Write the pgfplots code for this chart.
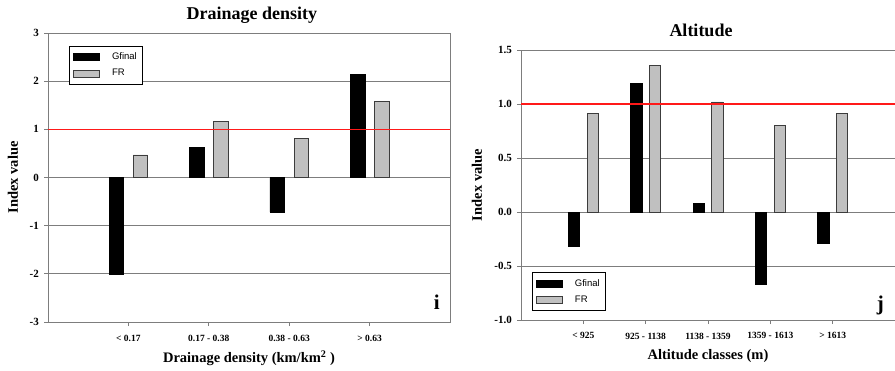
\documentclass[border=0pt]{standalone}
\usepackage{fontspec}
\setmainfont{Liberation Serif}
\newfontfamily\arial{Liberation Sans}
\usepackage{pgfplots}
\pgfplotsset{compat=1.18}

\definecolor{barfr}{RGB}{192,192,192}
\definecolor{baredge}{RGB}{60,60,60}
\definecolor{gridgray}{RGB}{125,125,125}
\definecolor{refred}{RGB}{255,25,25}

\pgfplotsset{
  panel/.style={
    scale only axis,
    axis line style={gridgray, line width=0.9pt},
    ymajorgrids,
    major grid style={gridgray, line width=0.7pt},
    tick align=outside, tick pos=left,
    major tick length=4pt,
    tick style={gridgray, line width=0.8pt},
    /pgf/number format/assume math mode=true,
    yticklabel style={font=\bfseries\fontsize{11}{12}\selectfont, inner sep=1pt, xshift=-4pt},
    xticklabel style={font=\bfseries\fontsize{9.5}{11}\selectfont, inner sep=1pt, yshift=-7.5pt},
    title style={font=\bfseries\fontsize{18}{20}\selectfont, at={(rel axis cs:0.5,1)}, anchor=base, yshift=8pt},
    legend image code/.code={\path[draw=none, fill=none] (0pt,0pt) rectangle (37pt,0pt);\draw[#1] (0pt,-3.5pt) rectangle (26pt,3.5pt);},
    legend style={draw=black, line width=0.6pt, fill=white,
      font=\arial\fontsize{9.5}{11}\selectfont,
      inner xsep=3.5pt, inner ysep=5pt, row sep=4pt,
      nodes={inner sep=2pt}},
    legend cell align=left,
  },
  gfinal/.style={ybar, bar width=0.18, bar shift=-0.15, fill=black, draw=black, line width=0.5pt},
  frbar/.style={ybar, bar width=0.18, bar shift=0.15, fill=barfr, draw=baredge, line width=0.6pt},
  refline/.style={color=refred, line width=1.5pt, forget plot},
}

\begin{document}
\begin{tikzpicture}
\useasboundingbox (0,0) rectangle (895pt,370pt);

% Panel j: altitude
\begin{axis}[panel,
  at={(521pt,50pt)}, anchor=south west,
  width=374pt, height=270pt,
  xmin=-1, xmax=5, ymin=-1, ymax=1.5,
  ytick={-1,-0.5,0,0.5,1,1.5},
  yticklabel style={/pgf/number format/.cd, fixed, fixed zerofill, precision=1},
  xtick={0,1,2,3,4},
  xticklabels={{< 925},{925 - 1138},{1138 - 1359},{1359 - 1613},{> 1613}},
  title={Altitude},
  title style={xshift=-7pt},
  xlabel={Altitude classes (m)},
  ylabel={Index value},
  every axis x label/.style={at={(rel axis cs:0.5,0)}, yshift=-36.5pt, anchor=center,
    font=\bfseries\fontsize{14.5}{16}\selectfont},
  every axis y label/.style={at={(rel axis cs:0,0.5)}, xshift=-44pt, rotate=90, anchor=center,
    font=\bfseries\fontsize{14.5}{16}\selectfont},
  legend style={at={(0.029,0.033)}, anchor=south west},
]
\addplot[gfinal] coordinates {(0,-0.32) (1,1.19) (2,0.08) (3,-0.67) (4,-0.29)};
\addplot[frbar] coordinates {(0,0.91) (1,1.36) (2,1.02) (3,0.80) (4,0.91)};
\addplot[refline] coordinates {(-1,1) (5,1)};
\legend{Gfinal, FR}
\node[anchor=base east, font=\bfseries\fontsize{21}{22}\selectfont, inner sep=0pt] at (rel axis cs:0.971,0.036) {j};
\end{axis}

% Panel i: drainage density
\begin{axis}[panel,
  at={(48pt,48pt)}, anchor=south west,
  width=402pt, height=289pt,
  xmin=-1, xmax=4, ymin=-3, ymax=3,
  ytick={-3,-2,-1,0,1,2,3},
  xtick={0,1,2,3},
  xticklabels={{< 0.17},{0.17 - 0.38},{0.38 - 0.63},{> 0.63}},
  title={Drainage density},
  title style={xshift=3pt},
  xlabel={Drainage density (km/km\textsuperscript{2} )},
  ylabel={Index value},
  every axis x label/.style={at={(rel axis cs:0.5,0)}, yshift=-36pt, anchor=center,
    font=\bfseries\fontsize{14.5}{16}\selectfont},
  every axis y label/.style={at={(rel axis cs:0,0.5)}, xshift=-35pt, rotate=90, anchor=center,
    font=\bfseries\fontsize{14.5}{16}\selectfont},
  legend style={at={(0.052,0.956)}, anchor=north west},
]
\addplot[gfinal] coordinates {(0,-2.00) (1,0.63) (2,-0.72) (3,2.14)};
\addplot[frbar] coordinates {(0,0.47) (1,1.16) (2,0.82) (3,1.58)};
\addplot[refline] coordinates {(-1,1) (4,1)};
\legend{Gfinal, FR}
\node[anchor=base east, font=\bfseries\fontsize{21}{22}\selectfont, inner sep=0pt] at (rel axis cs:0.975,0.042) {i};
\end{axis}
\end{tikzpicture}
\end{document}
